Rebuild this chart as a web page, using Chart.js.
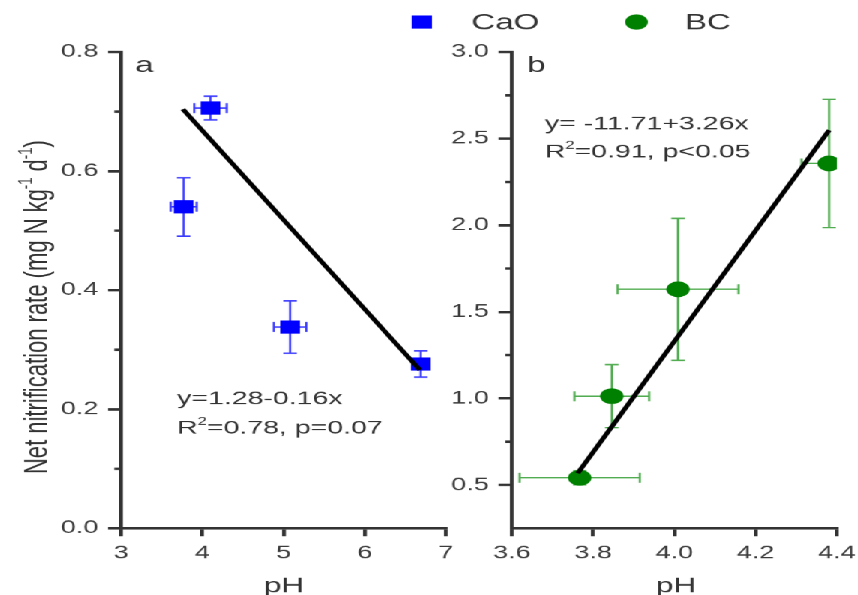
<!DOCTYPE html>
<html lang="en">
<head>
	<meta charset="UTF-8">
	<title>Net nitrification rate vs pH</title>
	<script src="https://cdn.jsdelivr.net/npm/chart.js"></script>
	<style>
    	body {
        	margin: 0;
        	padding: 0;
        	background: #fff;
        	overflow: hidden;
    	}
    	/* the figure is drawn narrow and stretched sideways, like the original */
    	#wrap {
        	position: relative;
        	width: 572px;
        	height: 595px;
        	transform: scaleX(1.5);
        	transform-origin: 0 0;
    	}
    	#wrap canvas {
        	position: absolute;
        	left: 0;
        	top: 0;
    	}
	</style>
</head>
<body>

	<div id="wrap">
    	<canvas id="chartA" width="572" height="595"></canvas>
    	<canvas id="chartB" width="620" height="595"></canvas>
	</div>

	<script>
    	// panel a: CaO
    	const caoPH = [3.77, 4.10, 5.08, 6.69];
    	const caoRate = [0.540, 0.706, 0.338, 0.276];
    	const caoPHErr = [0.16, 0.20, 0.20, 0.06];
    	const caoRateErr = [0.049, 0.020, 0.044, 0.022];
    	const caoFitPH = [3.76, 6.68];
    	const caoFitRate = [0.704, 0.266];

    	// panel b: BC
    	const bcPH = [3.767, 3.846, 4.009, 4.381];
    	const bcRate = [0.542, 1.013, 1.630, 2.357];
    	const bcPHErr = [0.148, 0.092, 0.149, 0.068];
    	const bcRateErr = [0.040, 0.182, 0.410, 0.370];
    	const bcFitPH = [3.762, 4.381];
    	const bcFitRate = [0.568, 2.549];

    	// axes
    	const aXTicks = [3, 4, 5, 6, 7];
    	const aYTicks = [0.0, 0.2, 0.4, 0.6, 0.8];
    	const aYMinor = [0.1, 0.3, 0.5, 0.7];
    	const bXTicks = [3.6, 3.8, 4.0, 4.2, 4.4];
    	const bYTicks = [0.5, 1.0, 1.5, 2.0, 2.5, 3.0];
    	const bYMinor = [0.75, 1.25, 1.75, 2.25, 2.75];

    	const FONT = '"Liberation Sans", Arial, Helvetica, sans-serif';
    	const INK = '#333';
    	const LABEL = '#3c3c3c';

    	const pts = (xs, ys) => xs.map((x, i) => ({ x, y: ys[i] }));

    	const axis = (min, max, ticks, decimals, tickLen, width, height) => ({
        	type: 'linear',
        	min, max,
        	afterBuildTicks: s => { s.ticks = ticks.map(v => ({ value: v })); },
        	afterFit: s => {
            	if (width !== undefined) s.width = width;
            	if (height !== undefined) s.height = height;
        	},
        	border: { display: true, color: INK, width: 2.5 },
        	grid: { drawOnChartArea: false, drawTicks: true, tickLength: tickLen, color: INK, lineWidth: 2.5 },
        	ticks: {
            	color: LABEL,
            	font: { family: FONT, size: 18 },
            	padding: 6.5,
            	autoSkip: false,
            	maxRotation: 0,
            	callback: v => Number(v).toFixed(decimals)
        	}
    	});

    	function drawErrors(chart, xs, ys, xe, ye, color) {
        	const { ctx, chartArea: a, scales: { x, y } } = chart;
        	ctx.save();
        	ctx.beginPath();
        	ctx.rect(a.left, a.top, a.right - a.left, a.bottom - a.top);
        	ctx.clip();
        	ctx.strokeStyle = color;
        	ctx.lineWidth = 1.5;
        	xs.forEach((xv, i) => {
            	const px = x.getPixelForValue(xv);
            	const py = y.getPixelForValue(ys[i]);
            	const y1 = y.getPixelForValue(ys[i] + ye[i]);
            	const y2 = y.getPixelForValue(ys[i] - ye[i]);
            	const x1 = x.getPixelForValue(xv - xe[i]);
            	const x2 = x.getPixelForValue(xv + xe[i]);
            	ctx.beginPath();
            	ctx.moveTo(px, y1); ctx.lineTo(px, y2);
            	ctx.moveTo(px - 4.5, y1); ctx.lineTo(px + 4.5, y1);
            	ctx.moveTo(px - 4.5, y2); ctx.lineTo(px + 4.5, y2);
            	ctx.moveTo(x1, py); ctx.lineTo(x2, py);
            	ctx.moveTo(x1, py - 5); ctx.lineTo(x1, py + 5);
            	ctx.moveTo(x2, py - 5); ctx.lineTo(x2, py + 5);
            	ctx.stroke();
        	});
        	ctx.restore();
    	}

    	function drawMinor(chart, values) {
        	const { ctx, chartArea: a, scales: { y } } = chart;
        	ctx.save();
        	ctx.strokeStyle = INK;
        	ctx.lineWidth = 2.5;
        	values.forEach(v => {
            	const py = y.getPixelForValue(v);
            	ctx.beginPath();
            	ctx.moveTo(a.left - 4.5, py);
            	ctx.lineTo(a.left, py);
            	ctx.stroke();
        	});
        	ctx.restore();
    	}

    	// text with a raised small part, e.g. R² ; parts = [[text, isSup], ...]
    	function drawRich(ctx, parts, x, y, size) {
        	let cx = x;
        	parts.forEach(([t, sup]) => {
            	ctx.font = `${sup ? Math.round(size * 0.6) : size}px ${FONT}`;
            	ctx.fillText(t, cx, sup ? y - size * 0.45 : y);
            	cx += ctx.measureText(t).width;
        	});
        	return cx - x;
    	}

    	function richWidth(ctx, parts, size) {
        	let w = 0;
        	parts.forEach(([t, sup]) => {
            	ctx.font = `${sup ? Math.round(size * 0.6) : size}px ${FONT}`;
            	w += ctx.measureText(t).width;
        	});
        	return w;
    	}

    	const textA = {
        	id: 'textA',
        	beforeDatasetsDraw(chart) {
            	drawErrors(chart, caoPH, caoRate, caoPHErr, caoRateErr, '#3b3bff');
        	},
        	afterDraw(chart) {
            	const ctx = chart.ctx;
            	drawMinor(chart, aYMinor);
            	ctx.save();
            	ctx.fillStyle = INK;
            	ctx.textBaseline = 'alphabetic';
            	ctx.textAlign = 'left';

            	// y axis title
            	const title = [['Net nitrification rate (mg N kg', false], ['-1', true], [' d', false], ['-1', true], [')', false]];
            	ctx.save();
            	ctx.translate(31.5, 307);
            	ctx.rotate(-Math.PI / 2);
            	const tw = richWidth(ctx, title, 22);
            	drawRich(ctx, title, -tw / 2, 0, 22);
            	ctx.restore();

            	// panel letter
            	ctx.font = `22px ${FONT}`;
            	ctx.fillText('a', 90, 72);

            	// fit equation
            	ctx.font = `19px ${FONT}`;
            	ctx.fillText('y=1.28-0.16x', 118, 404);
            	drawRich(ctx, [['R', false], ['2', true], ['=0.78, p=0.07', false]], 118, 433, 19);

            	// x title
            	ctx.textAlign = 'center';
            	ctx.font = `21px ${FONT}`;
            	ctx.fillText('pH', 189.3, 592);

            	// legend
            	ctx.textAlign = 'left';
            	ctx.fillStyle = '#0000ff';
            	ctx.fillRect(274.5, 15.5, 13.5, 13);
            	ctx.fillStyle = '#008000';
            	ctx.beginPath();
            	ctx.arc(424.4, 22, 7.6, 0, Math.PI * 2);
            	ctx.fill();
            	ctx.fillStyle = INK;
            	ctx.font = `22px ${FONT}`;
            	ctx.fillText('CaO', 314.4, 29.5);
            	ctx.fillText('BC', 456.7, 29.5);
            	ctx.restore();
        	}
    	};

    	const textB = {
        	id: 'textB',
        	beforeDatasetsDraw(chart) {
            	drawErrors(chart, bcPH, bcRate, bcPHErr, bcRateErr, '#52ad52');
        	},
        	afterDraw(chart) {
            	const ctx = chart.ctx;
            	drawMinor(chart, bYMinor);
            	ctx.save();
            	ctx.fillStyle = INK;
            	ctx.textAlign = 'left';
            	ctx.font = `22px ${FONT}`;
            	ctx.fillText('b', 351.5, 72);
            	ctx.font = `19px ${FONT}`;
            	ctx.fillText('y= -11.71+3.26x', 363.3, 129);
            	drawRich(ctx, [['R', false], ['2', true], ['=0.91, p<0.05', false]], 363.3, 157.5, 19);
            	ctx.textAlign = 'center';
            	ctx.font = `21px ${FONT}`;
            	ctx.fillText('pH', 450.7, 592);
            	ctx.restore();
        	}
    	};

    	const baseOptions = {
        	responsive: false,
        	animation: false,
        	events: [],
        	devicePixelRatio: 1.5,
        	plugins: { legend: { display: false }, tooltip: { enabled: false } }
    	};

    	new Chart(document.getElementById('chartA'), {
        	type: 'scatter',
        	data: {
            	datasets: [
                	{
                    	type: 'line',
                    	data: pts(caoFitPH, caoFitRate),
                    	borderColor: '#000',
                    	borderWidth: 3.5,
                    	pointRadius: 0,
                    	fill: false,
                    	order: 0
                	},
                	{
                    	label: 'CaO',
                    	data: pts(caoPH, caoRate),
                    	pointStyle: 'rect',
                    	pointRadius: 9.3,
                    	backgroundColor: '#0000ff',
                    	borderWidth: 0,
                    	order: 1
                	}
            	]
        	},
        	options: {
            	...baseOptions,
            	layout: { padding: { left: 0, top: 52, right: 572 - 297.33, bottom: 0 } },
            	scales: {
                	x: axis(3, 7, aXTicks, 0, 8, undefined, 67),
                	y: axis(0, 0.8, aYTicks, 1, 8.7, 80.67, undefined)
            	}
        	},
        	plugins: [textA]
    	});

    	// canvas B is wider than the figure so the 4.4 label never pushes the plot in
    	new Chart(document.getElementById('chartB'), {
        	type: 'scatter',
        	data: {
            	datasets: [
                	{
                    	type: 'line',
                    	data: pts(bcFitPH, bcFitRate),
                    	borderColor: '#000',
                    	borderWidth: 3.5,
                    	pointRadius: 0,
                    	fill: false,
                    	order: 0
                	},
                	{
                    	label: 'BC',
                    	data: pts(bcPH, bcRate),
                    	pointStyle: 'circle',
                    	pointRadius: 7.8,
                    	backgroundColor: '#008000',
                    	borderWidth: 0,
                    	clip: 0,
                    	order: 1
                	}
            	]
        	},
        	options: {
            	...baseOptions,
            	layout: { padding: { left: 341.33 - 60, top: 52, right: 620 - 558, bottom: 0 } },
            	scales: {
                	x: axis(3.6, 4.4, bXTicks, 1, 8, undefined, 67),
                	y: axis(0.25, 3.0, bYTicks, 1, 8.9, 60, undefined)
            	}
        	},
        	plugins: [textB]
    	});
	</script>

</body>
</html>
